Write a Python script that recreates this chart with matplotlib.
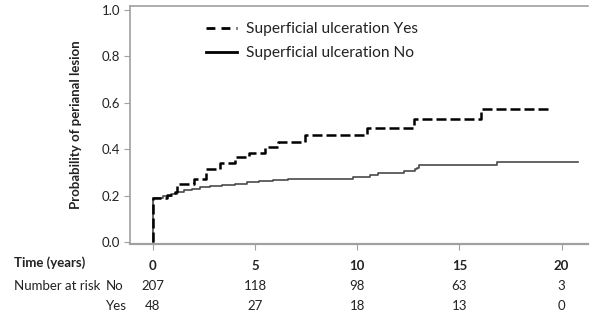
import matplotlib
matplotlib.use("Agg")
import matplotlib.pyplot as plt
import matplotlib.transforms as mtransforms
from matplotlib.lines import Line2D

plt.rcParams['font.family'] = ['Lato', 'DejaVu Sans']

# Kaplan-Meier style step curves (cumulative probability)
yes_times = [0, 0, 0.67, 1.1, 1.2, 2.0, 2.6, 3.3, 4.0, 4.7, 5.5, 6.1, 7.45, 10.47, 12.76, 16.03, 19.46]
yes_probs = [0, 0.19, 0.205, 0.216, 0.252, 0.273, 0.316, 0.34, 0.366, 0.383, 0.409, 0.432, 0.464, 0.493, 0.529, 0.572, 0.572]

no_times = [0, 0, 0.5, 0.9, 1.2, 1.5, 1.9, 2.3, 2.8, 3.4, 4.0, 4.6, 5.2, 5.9, 6.6, 9.8, 10.6, 11.0, 12.3, 12.8, 12.9, 13.0, 16.85, 20.8]
no_probs = [0, 0.19, 0.20, 0.21, 0.216, 0.224, 0.231, 0.238, 0.243, 0.249, 0.253, 0.258, 0.263, 0.268, 0.274, 0.281, 0.289, 0.299, 0.307, 0.315, 0.321, 0.332, 0.346, 0.346]

risk_times = [0, 5, 10, 15, 20]
risk_no = [207, 118, 98, 63, 3]
risk_yes = [48, 27, 18, 13, 0]

fig = plt.figure(figsize=(5.9, 3.16), dpi=100)
ax = fig.add_axes([0.220, 0.229, 0.777, 0.752])

ax.step(no_times, no_probs, where='post', color='#4a4a4a', lw=1.2, zorder=2)
ax.step(yes_times, yes_probs, where='post', color='black', lw=1.8,
        dashes=(4, 1.6), zorder=3)

ax.set_xlim(-1.13, 21.3)
ax.set_ylim(-0.005, 1.017)
ax.set_yticks([0, 0.2, 0.4, 0.6, 0.8, 1.0])
ax.set_yticklabels(['0.0', '0.2', '0.4', '0.6', '0.8', '1.0'])
ax.set_xticks(risk_times)
ax.set_xticklabels([str(t) for t in risk_times], fontweight='bold')

for s in ['left', 'top', 'bottom']:
    ax.spines[s].set_color('#a0a0a0')
ax.spines['right'].set_visible(False)
ax.spines['bottom'].set_linewidth(1.6)
ax.spines['left'].set_linewidth(1.2)
ax.spines['top'].set_linewidth(1.2)
ax.tick_params(axis='both', colors='#a0a0a0', labelcolor='#222222', labelsize=9.5, length=4)
ax.tick_params(axis='x', pad=8)
ax.tick_params(axis='y', pad=3)

ax.set_ylabel('Probability of perianal lesion', fontsize=9.5, fontweight='bold', color='#222222', labelpad=14)

leg_handles = [Line2D([], [], color='black', lw=2, dashes=(3.2, 2.2)),
               Line2D([], [], color='black', lw=2)]
ax.legend(leg_handles, ['Superficial ulceration Yes', 'Superficial ulceration No'],
          loc='upper left', bbox_to_anchor=(0.135, 0.99), frameon=False, fontsize=11.2,
          handlelength=2.0, handletextpad=0.6, labelspacing=0.62, labelcolor='#222222')

# number at risk table
trans = mtransforms.blended_transform_factory(ax.transData, fig.transFigure)
fig.text(14 / 590, 1 - 263 / 316, 'Time (years)', fontsize=9.5, fontweight='bold', color='#222222', va='center')
fig.text(14 / 590, 1 - 286 / 316, 'Number at risk', fontsize=9.5, color='#222222', va='center')
fig.text(106 / 590, 1 - 286 / 316, 'No', fontsize=9.5, color='#222222', va='center')
fig.text(106 / 590, 1 - 306 / 316, 'Yes', fontsize=9.5, color='#222222', va='center')
for t, n_no, n_yes in zip(risk_times, risk_no, risk_yes):
    ax.text(t, 1 - 286 / 316, str(n_no), transform=trans, ha='center', va='center', fontsize=9.5, color='#222222')
    ax.text(t, 1 - 306 / 316, str(n_yes), transform=trans, ha='center', va='center', fontsize=9.5, color='#222222')

fig.savefig('out.png', dpi=100)
